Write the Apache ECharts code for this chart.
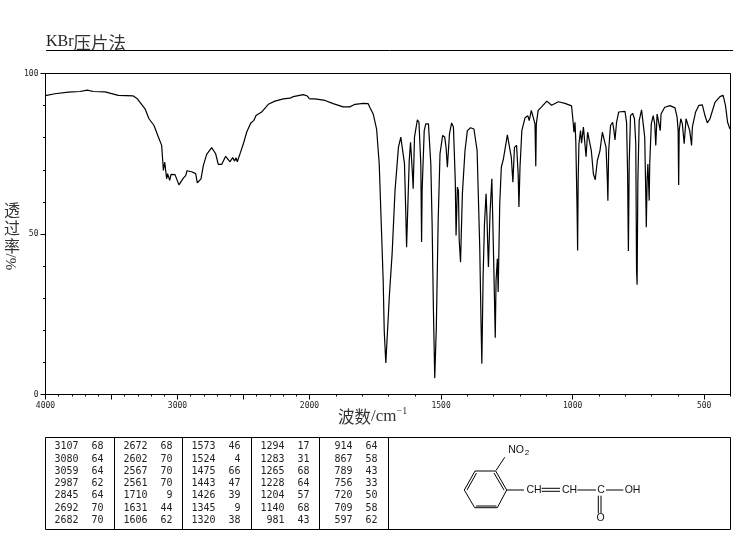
<!DOCTYPE html>
<html><head><meta charset="utf-8">
<style>html,body{margin:0;padding:0;background:#fff}#c{width:737px;height:539px}</style>
<script src="https://cdn.jsdelivr.net/npm/echarts@6/dist/echarts.min.js"></script>
</head><body><div id="c"></div>
<script>
const spectrumHigh = [[4000,93.1],[3928,93.7],[3827,94.2],[3739,94.4],[3683,94.8],[3638,94.4],[3549,94.3],[3448,93.2],[3335,93.0],[3304,92.1],[3246,89.0],[3216,85.9],[3178,83.8],[3145,80.2],[3120,77.6],[3112,72.9],[3107,69.8],[3097,72.4],[3090,71.9],[3082,67.2],[3075,68.8],[3067,68.6],[3059,66.7],[3049,68.6],[3019,68.5],[2989,65.3],[2974,65.7],[2956,67.4],[2938,68.2],[2928,69.7],[2893,69.4],[2862,68.8],[2850,65.9],[2837,65.9],[2822,67.2],[2804,71.4],[2779,74.8],[2741,76.9],[2729,76.9],[2711,75.0],[2691,71.7],[2665,71.7],[2635,74.2],[2620,74.4],[2602,72.5],[2582,73.8],[2567,72.7],[2557,73.8],[2547,72.5],[2537,72.5],[2522,75.5],[2501,78.1],[2476,81.7],[2446,84.5],[2421,85.4],[2405,86.9],[2363,88.0],[2312,90.4],[2262,91.4],[2198,92.1],[2148,92.3],[2123,92.8],[2047,93.4],[2017,93.0],[2000,92.1]];
const spectrumLow = [[2000,92.1],[1996,91.8],[1979,92.1],[1941,91.6],[1910,90.6],[1872,89.6],[1847,89.6],[1827,90.4],[1796,90.7],[1777,90.6],[1770,89.3],[1758,87.4],[1745,82.7],[1735,71.8],[1726,50.1],[1720,35.5],[1716,19.9],[1710,9.8],[1704,18.9],[1696,31.4],[1686,43.8],[1675,63.5],[1662,77.0],[1653,80.2],[1647,80.0],[1639,71.9],[1634,56.3],[1631,45.9],[1626,59.4],[1621,72.9],[1616,78.6],[1609,78.6],[1608,67.7],[1606,64.1],[1601,80.2],[1590,85.6],[1584,84.8],[1577,71.9],[1574,47.5],[1572,63.5],[1564,82.2],[1558,84.3],[1548,84.3],[1539,71.9],[1534,53.2],[1529,26.2],[1524,5.1],[1518,21.0],[1511,54.2],[1504,75.0],[1494,80.7],[1486,80.2],[1481,77.0],[1476,70.8],[1468,81.2],[1460,84.6],[1453,83.3],[1446,66.7],[1443,49.5],[1438,64.6],[1434,63.5],[1431,48.0],[1426,41.2],[1419,62.5],[1409,76.0],[1400,82.2],[1388,83.1],[1375,82.7],[1363,76.0],[1353,45.9],[1348,22.0],[1345,9.6],[1340,37.6],[1335,53.2],[1329,62.5],[1326,56.3],[1322,44.9],[1320,39.7],[1314,56.3],[1307,67.2],[1304,56.3],[1299,37.6],[1294,17.7],[1291,35.5],[1286,42.3],[1283,31.9],[1277,59.4],[1271,70.8],[1263,73.4],[1248,80.9],[1241,80.7],[1233,73.9],[1227,66.1],[1221,77.0],[1213,77.6],[1207,68.7],[1204,58.4],[1200,70.8],[1193,82.2],[1181,86.2],[1170,86.8],[1165,85.3],[1157,88.5],[1150,88.9],[1143,84.3],[1140,71.1],[1138,84.3],[1131,88.5],[1117,89.7],[1098,91.4],[1080,90.1],[1054,91.2],[1029,90.7],[1004,89.9],[998,84.8],[995,81.7],[991,84.8],[988,79.1],[983,57.3],[981,44.9],[979,66.7],[976,78.1],[970,82.2],[966,78.3],[959,83.3],[954,82.7],[949,74.1],[943,81.7],[938,81.2],[929,76.0],[921,68.7],[914,66.9],[906,72.9],[896,76.0],[887,81.7],[881,82.2],[873,77.0],[868,66.7],[866,60.4],[863,76.0],[856,83.8],[848,84.8],[843,82.2],[839,79.3],[833,84.8],[825,88.0],[801,88.2],[795,84.8],[791,68.7],[789,51.6],[788,44.7],[785,71.9],[780,86.9],[772,87.6],[765,85.9],[760,78.1],[757,38.6],[755,34.2],[752,66.7],[747,85.3],[738,88.7],[732,88.2],[726,80.2],[722,62.5],[720,52.1],[717,66.7],[714,71.8],[712,67.7],[709,60.4],[707,71.8],[701,84.3],[694,86.9],[688,84.3],[684,77.6],[679,87.4],[673,88.0],[667,82.2],[664,87.4],[650,89.5],[630,90.0],[611,89.3],[603,86.4],[599,82.2],[597,65.3],[595,82.2],[589,85.9],[583,84.3],[576,78.1],[569,85.9],[563,86.4],[555,82.2],[548,77.6],[545,83.3],[533,87.9],[520,90.1],[507,90.2],[497,86.9],[488,84.6],[478,85.9],[459,91.0],[440,92.8],[428,93.2],[419,90.0],[411,84.8],[402,82.7]];
const highTicks = [4000,3000,2000];
const lowTicks = [1500,1000,500];
const peakWavenumbers = [3107,3080,3059,2987,2845,2692,2682,2672,2602,2567,2561,1710,1631,1606,1573,1524,1475,1443,1426,1345,1320,1294,1283,1265,1228,1204,1140,981,914,867,789,756,720,709,597];
const peakPercents = [68,64,64,62,64,70,70,68,70,70,70,9,44,62,46,4,66,47,39,9,38,17,31,68,64,57,68,43,64,58,43,33,50,58,62];
const titleText = ['KBr','压片法'];

const L=45.5,R=730.5,T=73.5,B=394.5,MID=309.5;
const tickFont={fontFamily:'DejaVu Sans Mono',fontSize:8,color:'#222'};
const lineS={stroke:'#000',lineWidth:1};
const g=[];
const line=(x1,y1,x2,y2)=>g.push({type:'line',silent:true,shape:{x1,y1,x2,y2},style:lineS});
const txt=(x,y,text,font,extra)=>g.push(Object.assign({type:'text',silent:true,x,y,style:Object.assign({text,fill:'#111',align:'center',verticalAlign:'middle',font},extra&&extra.style||{})},extra&&extra.el||{}));

g.push({type:'text',silent:true,x:46,y:42,style:{text:'{a|'+titleText[0]+'}{b|'+titleText[1]+'}',verticalAlign:'middle',rich:{
  a:{fontFamily:'Liberation Serif',fontSize:16,fill:'#222',fontWeight:'normal'},
  b:{fontFamily:'Noto Sans CJK SC',fontSize:17.5,fill:'#333',fontWeight:'normal'}}}});
line(46,50.5,733,50.5);
txt(12,228,'透\n过\n率','16px "Noto Sans CJK SC"',{style:{lineHeight:18,fill:'#333'}});
g.push({type:'text',silent:true,x:12,y:262,rotation:Math.PI/2,style:{text:'%/',font:'15px "Liberation Serif"',fill:'#333',align:'center',verticalAlign:'middle'}});
g.push({type:'text',silent:true,x:338,y:417,style:{text:'{a|波数}{b|/cm}{s|−1}',verticalAlign:'middle',rich:{
  a:{fontFamily:'Noto Sans CJK SC',fontSize:16.5,fill:'#333'},
  b:{fontFamily:'Liberation Serif',fontSize:17,fill:'#333'},
  s:{fontFamily:'Liberation Serif',fontSize:10,fill:'#333',verticalAlign:'top',lineHeight:22}}}});
const colX=[45.5,114.5,182.5,251.5,319.5,388.5];
g.push({type:'rect',silent:true,shape:{x:45.5,y:437.5,width:685,height:92},style:{fill:'none',stroke:'#000',lineWidth:1}});
colX.slice(1).forEach(x=>line(x,437.5,x,529.5));
const rowY=i=>446.7+i*12.27;
peakWavenumbers.forEach((w,i)=>{
  const c=Math.floor(i/7),r=i%7;
  g.push({type:'text',silent:true,x:colX[c]+33,y:rowY(r),style:{text:String(w),font:'10px "DejaVu Sans Mono"',fill:'#222',align:'right',verticalAlign:'middle'}});
  g.push({type:'text',silent:true,x:colX[c]+58,y:rowY(r),style:{text:String(peakPercents[i]),font:'10px "DejaVu Sans Mono"',fill:'#222',align:'right',verticalAlign:'middle'}});
});
[[475,471,495.7,471],[495.7,471,506.7,490],[506.7,490,497.3,507.7],[497.3,507.7,474.7,507.7],[474.7,507.7,464.3,490],[464.3,490,475,471],
 [476.5,473,467,490],[494,473,504,490],[476,506,496.5,506],
 [496,470.5,504.7,457.3],[506.7,490,524,490],[541.7,488.3,560,488.3],[541.7,491.3,560,491.3],[577.3,490,596,490],[606,490,623.3,490],
 [598.3,495.7,598.3,513.3],[601,495.7,601,513.3]].forEach(a=>line(...a));
const mol='10.5px "Liberation Sans"';
txt(516,450.5,'NO',mol);
txt(527,453,'2','8px "Liberation Sans"');
txt(534,490,'CH',mol);txt(569.5,490,'CH',mol);txt(601,490,'C',mol);txt(632.5,490,'OH',mol);txt(600.5,518.5,'O',mol);

const hidden={show:false};
const option={animation:false,backgroundColor:'#fff',
 grid:[
  {left:L,top:T,width:R-L,height:B-T,show:true,borderColor:'#000',borderWidth:1,backgroundColor:'transparent'},
  {left:L,top:T,width:MID-L,height:B-T},
  {left:MID,top:T,width:R-MID,height:B-T}],
 xAxis:[
  {gridIndex:0,type:'value',min:0,max:1,show:false},
  {gridIndex:1,type:'value',inverse:true,position:'bottom',min:2000,max:4000,interval:500,splitLine:hidden,
   axisLine:{onZero:false,lineStyle:{color:'#000'}},
   axisTick:{length:5,lineStyle:{color:'#000'}},
   minorTick:{show:true,splitNumber:5,length:2,lineStyle:{color:'#000'}},
   axisLabel:Object.assign({margin:7,formatter:v=>highTicks.includes(v)?String(v):''},tickFont)},
  {gridIndex:2,type:'value',inverse:true,position:'bottom',min:400,max:2000,interval:100,splitLine:hidden,
   axisLine:{onZero:false,lineStyle:{color:'#000'}},
   axisTick:{length:2,lineStyle:{color:'#000'}},
   axisLabel:{show:false}},
  {gridIndex:2,type:'value',inverse:true,position:'bottom',min:400,max:2000,splitLine:hidden,
   axisLine:{show:false,onZero:false},
   axisTick:{show:true,length:5,customValues:lowTicks,lineStyle:{color:'#000'}},
   axisLabel:Object.assign({margin:7,customValues:lowTicks,formatter:v=>String(v)},tickFont)}],
 yAxis:[
  {gridIndex:0,type:'value',min:0,max:100,interval:50,splitLine:hidden,
   axisLine:{onZero:false,lineStyle:{color:'#000'}},
   axisTick:{length:5,lineStyle:{color:'#000'}},
   minorTick:{show:true,splitNumber:5,length:2.5,lineStyle:{color:'#000'}},
   axisLabel:Object.assign({margin:7},tickFont)},
  {gridIndex:1,type:'value',min:0,max:100,show:false},
  {gridIndex:2,type:'value',min:0,max:100,show:false}],
 series:[
  {type:'line',xAxisIndex:1,yAxisIndex:1,data:spectrumHigh,showSymbol:false,symbol:'none',lineStyle:{color:'#000',width:1.2},silent:true},
  {type:'line',xAxisIndex:2,yAxisIndex:2,data:spectrumLow,showSymbol:false,symbol:'none',lineStyle:{color:'#000',width:1.2},silent:true}],
 graphic:{elements:g}};
const chart=echarts.init(document.getElementById('c'),null,{renderer:'canvas'});
chart.setOption(option);
</script></body></html>
